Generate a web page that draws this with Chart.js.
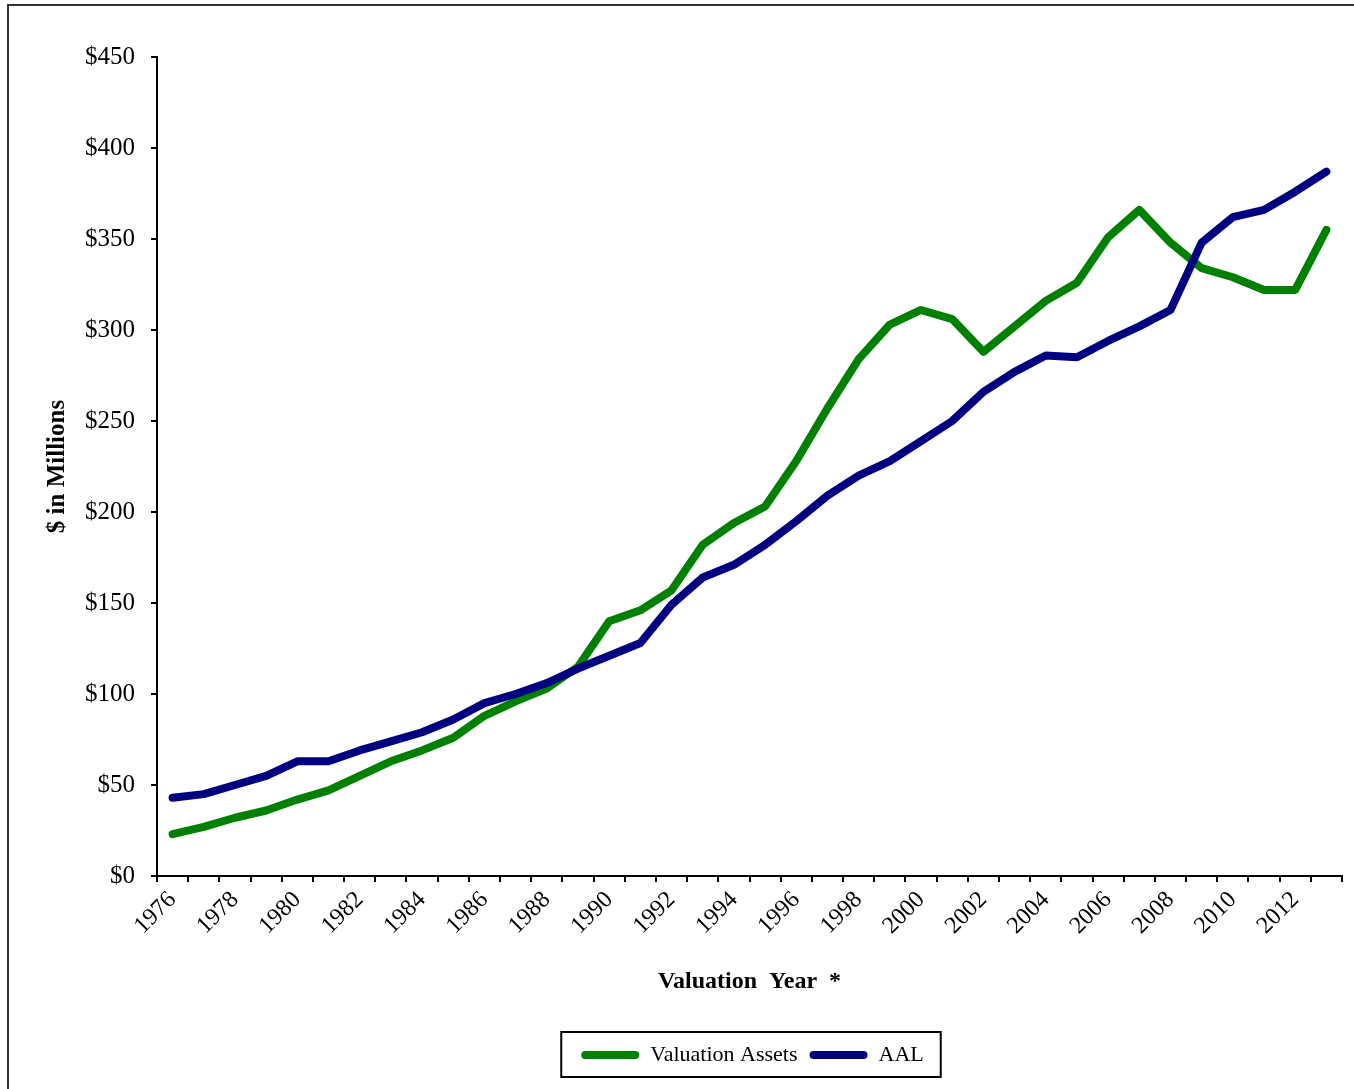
<!DOCTYPE html>
<html>
<head>
<meta charset="utf-8">
<script src="https://cdn.jsdelivr.net/npm/chart.js@4"></script>
<style>
  html, body { margin: 0; padding: 0; background: #fff; overflow: hidden; }
  canvas { display: block; }
</style>
</head>
<body>
<canvas id="valChart" width="1354" height="1089"></canvas>
<script>
// valuation years and the two series ($ in millions)
const years = [1976, 1977, 1978, 1979, 1980, 1981, 1982, 1983, 1984, 1985,
  1986, 1987, 1988, 1989, 1990, 1991, 1992, 1993, 1994, 1995,
  1996, 1997, 1998, 1999, 2000, 2001, 2002, 2003, 2004, 2005,
  2006, 2007, 2008, 2009, 2010, 2011, 2012, 2013];
const valuationAssets = [23, 27, 32, 36, 42, 47, 55, 63, 69, 76,
  88, 96, 103, 115, 140, 146, 157, 182, 194, 203,
  228, 257, 284, 303, 311, 306, 288, 302, 316, 326,
  351, 366, 348, 334, 329, 322, 322, 355];
const aal = [43, 45, 50, 55, 63, 63, 69, 74, 79, 86,
  95, 100, 106, 114, 121, 128, 149, 164, 171, 182,
  195, 209, 220, 228, 239, 250, 266, 277, 286, 285,
  294, 302, 311, 348, 362, 366, 376, 387];
const yTicks = [0, 50, 100, 150, 200, 250, 300, 350, 400, 450];

const serif = "'Liberation Serif', 'Times New Roman', serif";

// outer frame + box round the legend
const framePlugin = {
  id: 'frame',
  afterLayout(chart) {
    chart.legend.left = 163;
    chart.legend.right = 1342;
  },
  beforeDraw(chart) {
    const c = chart.ctx;
    c.save();
    c.strokeStyle = '#333';
    c.lineWidth = 2;
    c.strokeRect(8, 5, 1400, 1200);
    c.restore();
  },
  afterDraw(chart) {
    const hb = chart.legend.legendHitBoxes;
    if (!hb || !hb.length) return;
    const first = hb[0], last = hb[hb.length - 1];
    const cy = first.top + first.height / 2;
    const c = chart.ctx;
    c.save();
    c.strokeStyle = '#000';
    c.lineWidth = 2;
    c.strokeRect(first.left - 20, cy - 23, (last.left + last.width + 17) - (first.left - 20), 45);
    c.restore();
  }
};

new Chart(document.getElementById('valChart'), {
  type: 'line',
  data: {
    labels: years,
    datasets: [
      {
        label: 'Valuation Assets',
        data: valuationAssets,
        borderColor: '#008000',
        backgroundColor: '#008000',
        borderWidth: 8,
        pointRadius: 0,
        tension: 0,
        borderJoinStyle: 'round',
        borderCapStyle: 'round',
        order: 1
      },
      {
        label: 'AAL',
        data: aal,
        borderColor: '#000080',
        backgroundColor: '#000080',
        borderWidth: 8,
        pointRadius: 0,
        tension: 0,
        borderJoinStyle: 'round',
        borderCapStyle: 'round',
        order: 0
      }
    ]
  },
  options: {
    responsive: false,
    animation: false,
    layout: { padding: { left: 10, right: 12, top: 57, bottom: 13 } },
    plugins: {
      tooltip: { enabled: false },
      legend: {
        position: 'bottom',
        labels: {
          boxWidth: 58,
          boxHeight: 8,
          padding: 12,
          color: '#000',
          font: { family: serif, size: 22 },
          generateLabels: chart => chart.data.datasets.map((ds, i) => ({
            text: ds.label,
            fillStyle: ds.borderColor,
            strokeStyle: ds.borderColor,
            lineWidth: 0,
            borderRadius: 4,
            datasetIndex: i,
            hidden: false
          }))
        }
      }
    },
    scales: {
      x: {
        type: 'category',
        offset: true,
        afterFit: s => { s.height = 156; },
        border: { display: true, color: '#000', width: 2 },
        grid: { offset: true, drawOnChartArea: false, drawTicks: true, tickLength: 6, color: '#000', lineWidth: 2 },
        ticks: {
          autoSkip: false,
          minRotation: 45,
          maxRotation: 45,
          padding: 4,
          color: '#000',
          font: { family: serif, size: 24 },
          callback: (v, i) => (i % 2 === 0 ? String(years[i]) : '')
        },
        title: {
          display: true,
          text: 'Valuation  Year  *',
          color: '#000',
          font: { family: serif, size: 24, weight: 'bold' },
          padding: { top: 0, bottom: 36 }
        }
      },
      y: {
        min: 0,
        max: 450,
        afterFit: s => { s.width = 147; },
        afterBuildTicks: s => { s.ticks = yTicks.map(v => ({ value: v })); },
        border: { display: true, color: '#000', width: 2 },
        grid: { drawOnChartArea: false, drawTicks: true, tickLength: 6, color: '#000', lineWidth: 2 },
        ticks: {
          padding: 16,
          color: '#000',
          font: { family: serif, size: 25 },
          callback: v => '$' + v
        },
        title: {
          display: true,
          text: '$ in Millions',
          color: '#000',
          font: { family: serif, size: 25, weight: 'bold' },
          padding: { top: 33, bottom: 0 }
        }
      }
    }
  },
  plugins: [framePlugin]
});
</script>
</body>
</html>
